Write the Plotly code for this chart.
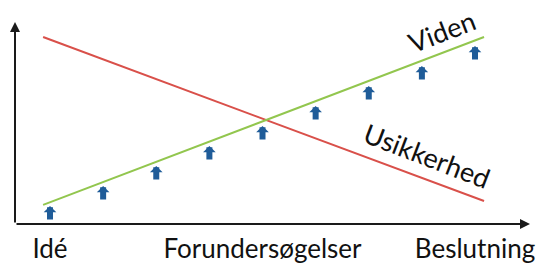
import plotly.graph_objects as go

# ---- data ----
stage_labels = ["Idé", "Forundersøgelser", "Beslutning"]
stage_positions = [0, 4, 8]

line_x = [-0.13, 8.17]
viden_y = [10.2, 100.0]
usikkerhed_y = [100.0, 12.3]

step_x = [0, 1, 2, 3, 4, 5, 6, 7, 8]
step_y = [9.6, 20.3, 31.0, 41.7, 52.4, 63.1, 73.8, 84.5, 95.2]

axis_x0, axis_x1 = -0.659, 9.035
axis_y0, axis_y1 = 0.0, 108.0

FONT = "Lato, 'Open Sans', sans-serif"
BLUE = "#1F5C99"
GREEN = "#92C64E"
RED = "#D9504A"
AXIS = "#1a1a1a"

fig = go.Figure()
fig.add_trace(go.Scatter(x=line_x, y=usikkerhed_y, mode="lines",
                         line=dict(color=RED, width=2), hoverinfo="skip"))
fig.add_trace(go.Scatter(x=line_x, y=viden_y, mode="lines",
                         line=dict(color=GREEN, width=2), hoverinfo="skip"))

annotations = []
# axes arrows
annotations.append(dict(x=axis_x0, y=axis_y1, ax=axis_x0, ay=axis_y0,
                        xref="x", yref="y", axref="x", ayref="y", text="",
                        showarrow=True, arrowhead=2, arrowsize=1, arrowwidth=2,
                        arrowcolor=AXIS))
annotations.append(dict(x=axis_x1, y=axis_y0, ax=axis_x0, ay=axis_y0,
                        xref="x", yref="y", axref="x", ayref="y", text="",
                        showarrow=True, arrowhead=2, arrowsize=1, arrowwidth=2,
                        arrowcolor=AXIS))
# block arrows
for sx, sy in zip(step_x, step_y):
    annotations.append(dict(x=sx, y=sy, ax=0, ay=15, xref="x", yref="y",
                            text="", showarrow=True, arrowhead=1,
                            arrowsize=0.35, arrowwidth=6, arrowcolor=BLUE))
# line labels
annotations.append(dict(x=7.36, y=103.2, xref="x", yref="y", text="Viden",
                        showarrow=False, textangle=-21,
                        font=dict(family=FONT, size=27, color="#111")))
annotations.append(dict(x=7.10, y=36.9, xref="x", yref="y", text="Usikkerhed",
                        showarrow=False, textangle=21,
                        font=dict(family=FONT, size=27, color="#111")))

fig.update_layout(
    width=542, height=265,
    margin=dict(l=15, r=12, t=0, b=41, pad=0, autoexpand=False),
    paper_bgcolor="white", plot_bgcolor="white",
    showlegend=False,
    annotations=annotations,
    xaxis=dict(range=[axis_x0, axis_x1], showgrid=False, zeroline=False,
               showline=False, tickvals=stage_positions, ticktext=stage_labels,
               ticks="", tickfont=dict(family=FONT, size=26, color="#111"),
               ticklabelstandoff=7, automargin=False, fixedrange=True),
    yaxis=dict(range=[0, 119.8], visible=False, fixedrange=True),
)

fig.write_html("out.html", config={"displayModeBar": False},
               post_script="document.body.style.margin='0';document.body.style.overflow='hidden';")
